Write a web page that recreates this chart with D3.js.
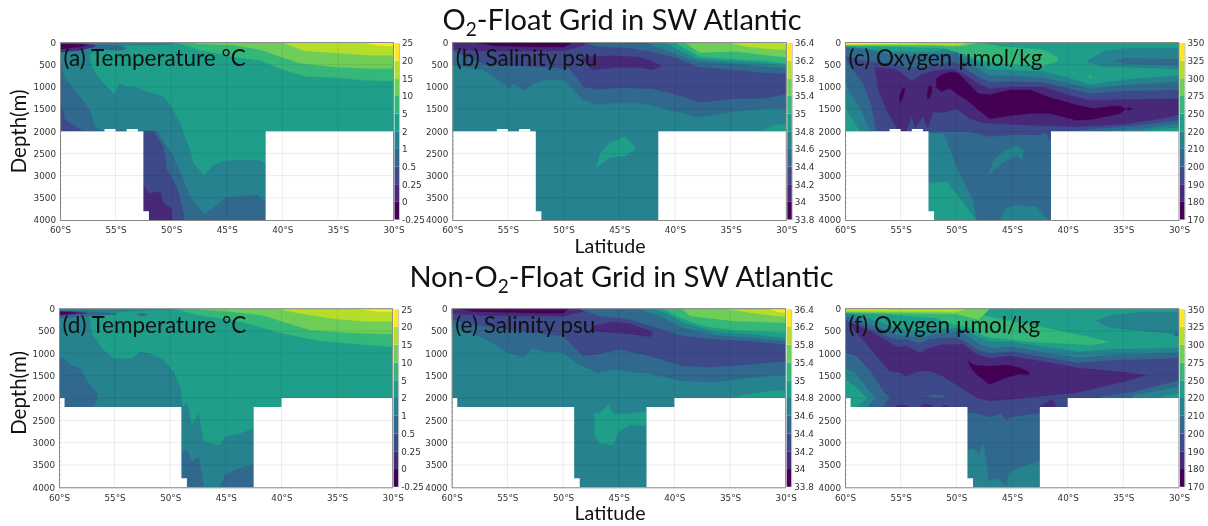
<!DOCTYPE html>
<html>
<head>
<meta charset="utf-8">
<script src="https://cdn.jsdelivr.net/npm/d3@7"></script>
<style>
  html, body { margin: 0; background: #fff; }
  svg { display: block; filter: blur(0.45px); }
  .tick text { font-family: "DejaVu Sans", sans-serif; font-size: 8.8px; fill: #333; }
</style>
</head>
<body>
<svg id="chart" width="1208" height="526"></svg>
<script>
// colour classes of the colourbars, low to high
const tempTicks = ["-0.25", "0", "0.25", "0.5", "1", "2", "5", "10", "15", "20", "25"];
const salTicks = ["33.8", "34", "34.2", "34.4", "34.6", "34.8", "35", "35.4", "35.8", "36.2", "36.4"];
const oxyTicks = ["170", "180", "190", "200", "210", "220", "250", "275", "300", "325", "350"];
const latTicks = [-60, -55, -50, -45, -40, -35, -30];
const depthTicks = [0, 500, 1000, 1500, 2000, 2500, 3000, 3500, 4000];

// sea floor of the two grids: [lat, depth], stepped
const floorO2 = [[-60, 2000], [-56, 1950], [-55, 2000], [-54, 1950], [-53, 2000], [-52.5, 3800], [-52, 4000], [-41.5, 2000], [-30, 2000]];
const floorNon = [[-60, 2000], [-59.5, 2200], [-49, 3800], [-48.5, 4000], [-42.5, 2200], [-40, 2000], [-30, 2000]];

// each layer: [colour class, [[lat, top depth, bottom depth], ...]], painted in order
const tempA = [
  [5, [[-60, 0, 4000], [-30, 0, 4000]]],
  [4, [[-60, 0, 4000], [-57.6, 0, 4000], [-57.15, 550, 4000], [-56.4, 850, 4000], [-55.05, 1185, 4000], [-54.7, 920, 4000], [-53.9, 1010, 4000], [-53.1, 1010, 4000], [-52.2, 1110, 4000], [-50.7, 1220, 4000], [-50, 1450, 4000], [-49.2, 1820, 4000], [-48.9, 2050, 4000], [-48.3, 2420, 4000], [-48, 2720, 4000], [-47.05, 3000, 4000], [-46.2, 2760, 4000], [-45, 2660, 4000], [-42, 2660, 4000], [-41.5, 2745, 4000]]],
  [4, [[-57.6, 0, 300], [-56, 0, 90], [-53, 0, 60], [-51, 0, 60], [-49.5, 0, 0]]],
  [3, [[-60, 400, 4000], [-59.6, 800, 4000], [-58.2, 1220, 4000], [-57.3, 1520, 4000], [-56.9, 1900, 4000], [-56.4, 1975, 4000], [-51.3, 2000, 4000], [-49.8, 2570, 4000], [-48.9, 3100, 4000], [-48.3, 3470, 4000], [-47.05, 3885, 4000], [-45, 3490, 4000], [-42.3, 3435, 4000], [-41.5, 3585, 4000]]],
  [2, [[-60, 1300, 4000], [-59.55, 1750, 4000], [-57.9, 2000, 4000], [-51.6, 2000, 4000], [-50.7, 2350, 4000], [-50.4, 2870, 4000], [-49.5, 3250, 4000], [-48.9, 3850, 4000], [-48.85, 4000, 4000]]],
  [1, [[-52.5, 3200, 4000], [-52.05, 3400, 4000], [-51, 3360, 4000], [-50.7, 3620, 4000], [-50, 3735, 4000], [-49.9, 4000, 4000]]],
  [3, [[-57.2, 50, 130], [-55.5, 60, 170], [-54.5, 80, 180], [-54, 130, 130]]],
  [1, [[-60, 30, 220], [-58, 30, 170], [-57, 50, 100], [-56.8, 75, 75]]],
  [0, [[-60, 40, 150], [-59, 40, 120], [-58, 50, 90], [-57.6, 70, 70]]],
  [6, [[-49.5, 0, 0], [-47.4, 0, 170], [-44.4, 0, 320], [-42, 0, 400], [-40.2, 0, 585], [-38, 0, 760], [-35.4, 0, 790], [-32.5, 0, 850], [-30, 0, 870]]],
  [7, [[-47.8, 0, 30], [-44.4, 0, 60], [-42, 0, 160], [-40.2, 0, 320], [-38.4, 0, 470], [-35.4, 0, 550], [-32.4, 0, 585], [-30, 0, 585]]],
  [8, [[-40, 0, 0], [-38, 0, 190], [-35.4, 0, 230], [-32.4, 0, 285], [-30, 0, 285]]],
  [9, [[-32.7, 0, 0], [-31.5, 0, 60], [-30, 0, 85]]]
];

const salB = [
  [4, [[-60, 0, 4000], [-30, 0, 4000]]],
  [3, [[-60, 0, 505], [-57.2, 0, 620], [-56, 0, 810], [-54.9, 0, 1035], [-54.5, 0, 920], [-53.6, 0, 1075], [-52.4, 0, 885], [-51.5, 0, 830], [-50, 0, 845], [-49.1, 0, 1070], [-48.2, 0, 1300], [-47, 0, 1390], [-45.2, 0, 1360], [-43.1, 0, 1360], [-41, 0, 1490], [-37.9, 0, 1675], [-34.9, 0, 1560], [-31.9, 0, 1490], [-30, 0, 1490]]],
  [2, [[-60, 0, 190], [-57.2, 0, 470], [-50, 0, 580], [-49.5, 0, 580], [-48.2, 0, 996], [-47, 0, 1060], [-45.2, 0, 1020], [-42.1, 0, 1035], [-39.7, 0, 1185], [-37.9, 0, 1350], [-34.6, 0, 1260], [-32.2, 0, 1260], [-30, 0, 1165]]],
  [1, [[-60, 0, 150], [-57.2, 0, 190], [-52, 0, 190], [-50, 0, 180], [-49, 0, 120], [-48.2, 0, 60], [-48, 0, 0]]],
  [0, [[-58.1, 0, 0], [-56, 0, 80], [-52, 0, 100], [-50, 0, 100], [-49.2, 0, 0]]],
  [1, [[-48.3, 330, 400], [-47.4, 310, 620], [-45.3, 300, 560], [-43.2, 330, 560], [-42.1, 420, 620], [-41.2, 530, 530]]],
  [5, [[-32.2, 2000, 2000], [-31, 1850, 2000], [-30, 1840, 2000]]],
  [5, [[-47.05, 2830, 2830], [-46.75, 2500, 2760], [-45.85, 2265, 2600], [-44.5, 2120, 2560], [-43.9, 2270, 2460], [-43.5, 2400, 2400]]],
  [3, [[-48, 0, 0], [-47, 0, 90], [-44, 0, 130], [-42.1, 0, 200], [-39.7, 0, 355], [-37.9, 0, 545], [-34.6, 0, 620], [-32, 0, 680], [-30, 0, 700]]],
  [4, [[-42.7, 0, 0], [-40.9, 0, 170], [-39.7, 0, 280], [-37.9, 0, 430], [-34.6, 0, 480], [-31.9, 0, 545], [-30, 0, 580]]],
  [5, [[-40.9, 0, 0], [-39.7, 0, 170], [-37.9, 0, 370], [-34.6, 0, 430], [-31.9, 0, 470], [-30, 0, 530]]],
  [6, [[-40, 0, 0], [-39.1, 0, 130], [-37.8, 0, 315], [-34.6, 0, 380], [-31.9, 0, 410], [-30, 0, 470]]],
  [7, [[-39.1, 0, 0], [-37.8, 0, 225], [-34.6, 0, 205], [-31.9, 0, 280], [-30, 0, 330]]],
  [8, [[-35.2, 0, 0], [-33.7, 0, 90], [-31.3, 0, 150], [-30, 0, 165]]],
  [9, [[-30.4, 0, 0], [-30, 0, 40]]]
];

const oxyC = [
  [3, [[-60, 0, 4000], [-30, 0, 4000]]],
  [2, [[-60, 0, 2000], [-49, 0, 2000], [-47, 0, 2120], [-45, 0, 2080], [-42.5, 0, 2085], [-42, 0, 2010], [-41.5, 0, 2235], [-30, 0, 2000]]],
  [1, [[-57.3, 0, 580], [-57, 0, 1070], [-56.25, 0, 1525], [-55.2, 0, 2000], [-54.5, 0, 1985], [-54, 0, 1660], [-53.7, 0, 1920], [-53, 0, 1660], [-52.55, 0, 1920], [-52.1, 0, 1570], [-50.9, 0, 1570], [-50, 0, 1490], [-48.8, 0, 1710], [-47.6, 0, 1810], [-43.7, 0, 1860], [-39.2, 0, 1900], [-34.7, 0, 1830], [-31.7, 0, 1720], [-30, 0, 1630]]],
  [3, [[-60, 355, 2000], [-59.3, 620, 2000], [-58.4, 920, 2000], [-57.7, 1370, 2000], [-57.2, 1980, 2000]]],
  [4, [[-60, 920, 2000], [-59.3, 1220, 2000], [-58.4, 1600, 2000], [-57.8, 1980, 2000]]],
  [5, [[-60, 1450, 2000], [-59.4, 1710, 2000], [-58.7, 1980, 2000]]],
  [3, [[-39.2, 1990, 2000], [-36.2, 1915, 2000], [-33.2, 1860, 2000], [-30, 1750, 2000]]],
  [4, [[-36.2, 1990, 2000], [-33.2, 1940, 2000], [-30, 1830, 2000]]],
  [5, [[-33.2, 2000, 2000], [-31.7, 1945, 2000], [-30, 1920, 2000]]],
  [4, [[-52.5, 2050, 4000], [-51.2, 2050, 4000], [-50.9, 2200, 4000], [-50, 2800, 4000], [-49.4, 3100, 4000], [-48.5, 3550, 4000], [-48.2, 4000, 4000]]],
  [5, [[-52.5, 3170, 4000], [-50.9, 3135, 4000], [-50, 3400, 4000], [-49.1, 3700, 4000], [-48.2, 4000, 4000]]],
  [4, [[-47.1, 3000, 3000], [-46.7, 2660, 2900], [-45.8, 2460, 2700], [-44.6, 2310, 2560], [-44.1, 2400, 2650], [-43.9, 2420, 2420]]],
  [4, [[-46.1, 4000, 4000], [-45.6, 3740, 4000], [-44.6, 3660, 4000], [-42.8, 3700, 4000], [-42, 3930, 4000], [-41.6, 4000, 4000]]],
  [2, [[-57.3, 0, 560], [-55.4, 0, 600], [-54, 0, 860], [-53, 0, 700], [-51.8, 0, 620], [-50.3, 0, 600], [-49, 0, 760], [-48, 0, 930], [-47, 0, 1040], [-45.2, 0, 1000], [-42.2, 0, 1000], [-39.8, 0, 1190], [-38, 0, 1300], [-34.7, 0, 1280], [-30, 0, 1260]]],
  [3, [[-60, 0, 300], [-58, 0, 420], [-56, 0, 470], [-54.5, 0, 560], [-53, 0, 560], [-51.5, 0, 500], [-50.5, 0, 420], [-49.5, 0, 500], [-49, 0, 620], [-48, 0, 780], [-47, 0, 890], [-45.2, 0, 880], [-42.2, 0, 890], [-39.8, 0, 1040], [-38, 0, 1150], [-34.7, 0, 1090], [-30, 0, 1070]]],
  [4, [[-60, 0, 120], [-58, 0, 150], [-56, 0, 270], [-54, 0, 300], [-52, 0, 270], [-50, 0, 230], [-49, 0, 470], [-48, 0, 600], [-47, 0, 740], [-45.2, 0, 750], [-42.2, 0, 790], [-39.8, 0, 920], [-38, 0, 1040], [-34.7, 0, 950], [-30, 0, 880]]],
  [5, [[-60, 0, 80], [-56, 0, 200], [-52, 0, 200], [-50, 0, 100], [-49, 0, 330], [-48, 0, 450], [-47, 0, 600], [-45.2, 0, 620], [-42.2, 0, 650], [-39.8, 0, 800], [-38, 0, 950], [-34.7, 0, 830], [-30, 0, 740]]],
  [4, [[-38.3, 430, 430], [-36.8, 205, 540], [-34.7, 130, 555], [-30, 130, 595]]],
  [3, [[-35.9, 410, 410], [-34.7, 355, 480], [-30, 380, 505]]],
  [6, [[-38.1, 760, 760], [-38, 740, 820], [-37.9, 780, 780]]],
  [6, [[-60, 0, 80], [-55, 0, 100], [-51, 0, 130], [-50.2, 0, 200], [-49, 0, 290], [-48, 0, 400], [-46, 90, 480], [-44, 130, 500], [-42.2, 170, 530], [-41, 320, 430], [-40.8, 380, 380]]],
  [7, [[-60, 0, 65], [-52, 0, 65], [-50, 0, 90], [-49, 0, 60], [-48, 0, 0]]],
  [8, [[-60, 0, 45], [-52, 0, 50], [-50, 0, 70], [-48.9, 0, 0]]],
  [9, [[-60, 0, 45], [-56.5, 0, 30], [-55.6, 0, 20], [-54.8, 0, 15], [-54, 0, 25], [-53.2, 0, 0]]],
  [0, [[-51.8, 810, 1000], [-51.35, 730, 1110], [-50.6, 670, 1030], [-49.85, 690, 1180], [-49.1, 880, 1290], [-48.05, 1150, 1510], [-47, 1180, 1720], [-45.2, 1070, 1650], [-43.4, 1070, 1600], [-41.6, 1240, 1600], [-39.2, 1410, 1750], [-37.7, 1490, 1730], [-36.2, 1440, 1650], [-35.3, 1430, 1600], [-34.85, 1500, 1510]]],
  [0, [[-34.8, 1500, 1500], [-34.5, 1470, 1530], [-34.2, 1490, 1490]]],
  [0, [[-55.1, 1200, 1370], [-54.8, 1030, 1250], [-54.6, 1030, 1030]]],
  [0, [[-52.6, 1100, 1280], [-52.4, 960, 1250], [-52.2, 1000, 1100]]]
];

const tempD = [
  [5, [[-60, 0, 4000], [-30, 0, 4000]]],
  [4, [[-60, 0, 4000], [-57.4, 0, 4000], [-57.05, 560, 4000], [-56, 930, 4000], [-55, 1120, 4000], [-53.5, 1120, 4000], [-52.7, 970, 4000], [-51.8, 1010, 4000], [-50.6, 1155, 4000], [-49.7, 1420, 4000], [-49.1, 1750, 4000], [-48.9, 2200, 4000], [-48.5, 2130, 4000], [-48.05, 2610, 4000], [-47.45, 2350, 4000], [-47, 2985, 4000], [-45.5, 3060, 4000], [-45.1, 2870, 4000], [-43.7, 2800, 4000], [-42.5, 2685, 4000]]],
  [4, [[-57.4, 0, 120], [-52, 0, 30], [-50, 0, 20], [-49, 0, 0]]],
  [3, [[-60, 1100, 2200], [-59.6, 1120, 2200], [-58.9, 1270, 2200], [-58.1, 1340, 2200], [-57.4, 1640, 2200], [-56.9, 1800, 2200], [-56.6, 1900, 2050], [-56.55, 1950, 1950]]],
  [3, [[-48.9, 3200, 4000], [-48.5, 3170, 4000], [-48.05, 3430, 4000], [-47.45, 3320, 4000], [-47.05, 3900, 4000], [-47, 4000, 4000], [-45.5, 4000, 4000], [-45.1, 3730, 4000], [-44, 3590, 4000], [-42.5, 3490, 4000]]],
  [3, [[-60, 50, 230], [-58, 50, 170], [-55, 100, 130], [-54.8, 120, 120]]],
  [2, [[-60, 60, 170], [-58.5, 70, 130], [-57.5, 100, 100]]],
  [1, [[-60, 60, 150], [-58.5, 75, 120], [-57.5, 100, 100]]],
  [0, [[-60, 70, 130], [-59, 80, 110], [-58.5, 95, 95]]],
  [3, [[-53, 125, 125], [-52.5, 100, 170], [-52, 130, 130]]],
  [6, [[-49.7, 0, 0], [-47.3, 0, 150], [-44.3, 0, 260], [-42.5, 0, 370], [-39.8, 0, 560], [-36.8, 0, 710], [-33.8, 0, 780], [-30, 0, 860]]],
  [7, [[-47.3, 0, 20], [-44.3, 0, 75], [-41.6, 0, 150], [-39.8, 0, 300], [-37.4, 0, 485], [-33.8, 0, 540], [-30, 0, 575]]],
  [8, [[-40.4, 0, 0], [-38.3, 0, 110], [-35.3, 0, 225], [-32.3, 0, 285], [-30, 0, 285]]],
  [9, [[-33.2, 0, 0], [-31.4, 0, 60], [-30, 0, 75]]]
];

const salE = [
  [4, [[-60, 0, 4000], [-30, 0, 4000]]],
  [3, [[-60, 0, 390], [-57.15, 0, 650], [-54.9, 0, 985], [-53.55, 0, 1075], [-52.65, 0, 870], [-52.05, 0, 950], [-50, 0, 985], [-48.8, 0, 1210], [-47, 0, 1430], [-45.2, 0, 1360], [-42.2, 0, 1455], [-39.2, 0, 1620], [-36.2, 0, 1640], [-33.2, 0, 1545], [-30, 0, 1470]]],
  [2, [[-60, 0, 240], [-57.15, 0, 390], [-50, 0, 610], [-49.1, 0, 835], [-48.2, 0, 1060], [-47, 0, 1020], [-44.9, 0, 910], [-42.2, 0, 1060], [-39.2, 0, 1280], [-36.9, 0, 1305], [-33.2, 0, 1245], [-30, 0, 1170]]],
  [1, [[-60, 0, 110], [-57, 0, 150], [-50, 0, 170], [-49.2, 0, 120], [-48.2, 0, 60], [-48, 0, 0]]],
  [0, [[-59.4, 0, 0], [-58, 0, 60], [-52, 0, 100], [-50, 0, 100], [-49.5, 0, 0]]],
  [1, [[-47.6, 500, 500], [-47.3, 390, 500], [-45.5, 300, 540], [-44, 330, 570], [-42.2, 500, 630], [-41.9, 575, 575]]],
  [5, [[-35, 2000, 2000], [-33.8, 1940, 2000], [-31.1, 1830, 2000], [-30, 1830, 2000]]],
  [5, [[-47.2, 2350, 2800], [-46.7, 2330, 3020], [-45.9, 2150, 3040], [-45.5, 2350, 3050], [-45, 2350, 2760], [-44, 2350, 2600], [-42.5, 2300, 2630]]],
  [3, [[-48.6, 0, 0], [-46.7, 0, 165], [-44, 0, 240], [-41.6, 0, 425], [-39.2, 0, 610], [-36.2, 0, 685], [-33.2, 0, 725], [-30, 0, 800]]],
  [4, [[-43.4, 0, 0], [-42.2, 0, 90], [-41, 0, 200], [-39.2, 0, 425], [-36.2, 0, 595], [-33.2, 0, 650], [-30, 0, 725]]],
  [5, [[-41.9, 0, 0], [-40.7, 0, 105], [-39.2, 0, 315], [-36.2, 0, 520], [-33.2, 0, 575], [-30, 0, 650]]],
  [6, [[-41, 0, 0], [-39.5, 0, 200], [-37.4, 0, 390], [-34.7, 0, 480], [-30, 0, 535]]],
  [7, [[-39.3, 0, 0], [-38.6, 0, 165], [-34.7, 0, 275], [-30, 0, 315]]],
  [8, [[-35.4, 0, 0], [-33.2, 0, 90], [-30.8, 0, 165], [-30, 0, 180]]],
  [9, [[-31.4, 0, 0], [-30.7, 0, 75], [-30, 0, 90]]]
];

const oxyF = [
  [3, [[-60, 0, 4000], [-30, 0, 4000]]],
  [2, [[-60, 0, 2200], [-49, 0, 2350], [-48.5, 0, 2320], [-47, 0, 2420], [-46, 0, 2350], [-45.5, 0, 2500], [-45, 0, 2420], [-42.5, 0, 2330], [-40, 0, 2200], [-30, 0, 2000]]],
  [3, [[-60, 985, 2200], [-59, 1060, 2200], [-57.7, 1400, 2200], [-56.6, 1840, 2200], [-56, 2000, 2000]]],
  [4, [[-60, 1340, 2200], [-59, 1450, 2200], [-58, 1800, 2200], [-57.2, 2000, 2000]]],
  [5, [[-60, 1567, 2200], [-58.9, 1790, 2200], [-58, 2000, 2000]]],
  [3, [[-37.1, 1977, 2000], [-34.1, 1865, 2000], [-30, 1600, 2000]]],
  [4, [[-34.1, 1940, 2000], [-30, 1750, 2000]]],
  [5, [[-31.7, 1980, 2000], [-30, 1900, 2000]]],
  [4, [[-49, 3170, 4000], [-48.4, 3130, 4000], [-48, 3280, 4000], [-47.6, 3020, 4000], [-47.3, 3430, 4000], [-47.1, 3840, 4000], [-46.2, 3800, 4000], [-45.5, 3990, 4000], [-45.3, 3730, 4000], [-44.9, 3620, 4000], [-42.5, 3400, 4000]]],
  [1, [[-55.4, 2180, 2200], [-55, 2150, 2200], [-54.4, 2180, 2200]]],
  [1, [[-53.2, 2180, 2200], [-52.8, 2120, 2200], [-52.2, 2170, 2200]]],
  [1, [[-51.3, 2180, 2200], [-51, 2160, 2200], [-50.7, 2190, 2200]]],
  [1, [[-42.5, 2180, 2200], [-42, 2110, 2200], [-41.4, 2030, 2200], [-41, 2180, 2200]]],
  [3, [[-52.8, 1950, 1950], [-52, 1930, 2000], [-51.2, 1940, 1990], [-51, 1990, 1990]]],
  [1, [[-59.6, 300, 350], [-57.8, 500, 870], [-56, 760, 1395], [-55.1, 870, 1430], [-54.5, 835, 1505], [-53.3, 985, 1395], [-52.4, 880, 1395], [-51.2, 800, 1505], [-49.4, 800, 1805], [-48.2, 1020, 1990], [-47, 1120, 2065], [-45.2, 1060, 2030], [-41.6, 1210, 1940], [-39.2, 1320, 1880], [-34.7, 1430, 1620], [-33, 1490, 1490]]],
  [3, [[-60, 0, 250], [-58.4, 0, 380], [-57, 0, 520], [-56, 0, 640], [-55, 0, 700], [-54.5, 0, 680], [-53.3, 0, 780], [-52.4, 0, 680], [-51.2, 0, 650], [-50, 0, 650], [-49.4, 0, 700], [-48.2, 0, 900], [-47, 0, 1000], [-45, 0, 960], [-42, 0, 1090], [-39.2, 0, 1210], [-36, 0, 1150], [-33, 0, 1130], [-30, 0, 1100]]],
  [4, [[-60, 0, 150], [-58.4, 0, 300], [-57, 0, 420], [-56, 0, 500], [-55, 0, 600], [-54, 0, 620], [-53, 0, 640], [-52, 0, 560], [-50, 0, 520], [-49, 0, 600], [-48, 0, 780], [-47, 0, 880], [-45, 0, 850], [-42, 0, 980], [-39, 0, 1100], [-36, 0, 1030], [-33, 0, 1010], [-30, 0, 985]]],
  [5, [[-60, 0, 80], [-58, 0, 200], [-57, 0, 300], [-56, 0, 380], [-55, 0, 450], [-54, 0, 500], [-53, 0, 520], [-52, 0, 470], [-50, 0, 430], [-49, 0, 500], [-48, 0, 640], [-47, 0, 730], [-45, 0, 740], [-42, 0, 850], [-39, 0, 960], [-36, 0, 900], [-33, 0, 890], [-30, 0, 870]]],
  [4, [[-37.4, 275, 275], [-36.2, 150, 425], [-33.2, 75, 500], [-30, 75, 575]]],
  [3, [[-30.4, 560, 600], [-30, 500, 620]]],
  [6, [[-60, 0, 100], [-56, 0, 130], [-52, 0, 200], [-50, 0, 370], [-48.8, 0, 430], [-47.3, 165, 635], [-45.5, 260, 680], [-43.1, 370, 745], [-39.5, 560, 790], [-38, 640, 820], [-36.2, 745, 745]]],
  [7, [[-60, 0, 80], [-55, 0, 100], [-50, 0, 120], [-48, 0, 250], [-47, 0, 0]]],
  [8, [[-60, 0, 60], [-52, 0, 70], [-50, 0, 80], [-49, 0, 0]]],
  [9, [[-60, 0, 20], [-56.5, 0, 20], [-56, 0, 0]]],
  [0, [[-49, 1150, 1150], [-48.65, 1225, 1340], [-48.2, 1270, 1470], [-47, 1290, 1700], [-45.5, 1260, 1540], [-44.3, 1320, 1460], [-43.5, 1410, 1480], [-43.45, 1450, 1450]]]
];

const svg = d3.select("#chart");
const color = (i) => d3.interpolateViridis(i / 9);
const latFormat = (d) => `${Math.abs(d)}°S`;

const panels = [
  { px: 60, py: 42.5, w: 333.5, h: 177.5, layers: tempA, floor: floorO2, ticks: tempTicks, label: "(a) Temperature °C" },
  { px: 452.3, py: 42.5, w: 334, h: 177.5, layers: salB, floor: floorO2, ticks: salTicks, label: "(b) Salinity psu" },
  { px: 845, py: 42.5, w: 334, h: 177.5, layers: oxyC, floor: floorO2, ticks: oxyTicks, label: "(c) Oxygen µmol/kg" },
  { px: 59, py: 308.7, w: 333.7, h: 178.6, layers: tempD, floor: floorNon, ticks: tempTicks, label: "(d) Temperature °C" },
  { px: 451.7, py: 308.7, w: 334, h: 178.6, layers: salE, floor: floorNon, ticks: salTicks, label: "(e) Salinity psu" },
  { px: 845, py: 308.7, w: 334, h: 178.6, layers: oxyF, floor: floorNon, ticks: oxyTicks, label: "(f) Oxygen µmol/kg" }
];

panels.forEach((p, n) => {
  const g = svg.append("g").attr("transform", `translate(${p.px},${p.py})`);
  const x = d3.scaleLinear().domain([-60, -30]).range([0, p.w]);
  const y = d3.scaleLinear().domain([0, 4000]).range([0, p.h]);

  g.append("clipPath").attr("id", `clip${n}`)
    .append("rect").attr("width", p.w).attr("height", p.h);
  const plot = g.append("g").attr("clip-path", `url(#clip${n})`);

  const band = d3.area().x((d) => x(d[0])).y0((d) => y(d[1])).y1((d) => y(d[2]));
  plot.selectAll("path.band")
    .data(p.layers)
    .enter()
    .append("path")
    .attr("class", "band")
    .attr("d", (d) => band(d[1]))
    .attr("fill", (d) => color(d[0]))
    .attr("stroke", (d) => color(d[0]))
    .attr("stroke-width", 0.3);

  // no data below the floor
  const floorArea = d3.area().curve(d3.curveStepAfter)
    .x((d) => x(d[0])).y0((d) => y(d[1])).y1(y(4000));
  plot.append("path").attr("d", floorArea(p.floor)).attr("fill", "#fff");

  // grid sits on top of the fill
  const grid = g.append("g").attr("stroke", "#000").attr("stroke-opacity", 0.1).attr("stroke-width", 0.8);
  grid.selectAll("line.gx").data(latTicks.slice(1, -1)).enter().append("line")
    .attr("x1", (d) => x(d)).attr("x2", (d) => x(d)).attr("y1", 0).attr("y2", p.h);
  grid.selectAll("line.gy").data(depthTicks.slice(1, -1)).enter().append("line")
    .attr("x1", 0).attr("x2", p.w).attr("y1", (d) => y(d)).attr("y2", (d) => y(d));

  g.append("g").attr("transform", `translate(0,${p.h})`)
    .call(d3.axisBottom(x).tickValues(latTicks).tickFormat(latFormat).tickSize(0).tickPadding(7))
    .call((a) => a.select(".domain").attr("stroke", "#8a8a8a").attr("stroke-width", 1));
  g.append("g")
    .call(d3.axisLeft(y).tickValues(depthTicks).tickFormat(d3.format("d")).tickSize(0).tickPadding(4))
    .call((a) => a.select(".domain").attr("stroke", "#8a8a8a").attr("stroke-width", 1));
  // minor depth ticks
  g.append("g")
    .call(d3.axisLeft(y).tickValues(d3.range(0, 4001, 100)).tickSize(-1.5).tickFormat(""))
    .call((a) => a.select(".domain").remove())
    .call((a) => a.selectAll("line").attr("stroke", "#777").attr("stroke-width", 0.5));
  g.append("line").attr("x1", 0).attr("x2", p.w).attr("stroke", "#8a8a8a").attr("stroke-width", 1);
  g.append("line").attr("x1", p.w).attr("x2", p.w).attr("y2", p.h).attr("stroke", "#8a8a8a").attr("stroke-width", 1);

  // discrete colourbar
  const cb = g.append("g").attr("transform", `translate(${p.w + 1},0)`);
  const cbY = d3.scalePoint().domain(p.ticks.slice().reverse()).range([0.5, p.h - 0.5]);
  cb.selectAll("rect")
    .data(p.ticks.slice(0, -1))
    .enter()
    .append("rect")
    .attr("x", 0)
    .attr("width", 4.5)
    .attr("y", (d, i) => cbY(p.ticks[i + 1]))
    .attr("height", (d, i) => cbY(d) - cbY(p.ticks[i + 1]))
    .attr("fill", (d, i) => color(i));
  cb.append("g").attr("transform", "translate(4.5,0)")
    .call(d3.axisRight(cbY).tickSize(0).tickPadding(3))
    .call((a) => a.select(".domain").attr("stroke", "#999").attr("stroke-width", 0.6));

  g.append("text")
    .attr("x", 3.5)
    .attr("y", n < 3 ? 23 : 24)
    .style("font-family", "Lato, sans-serif")
    .style("font-size", "22.5px")
    .style("fill", "#111")
    .text(p.label);
});

const textStyle = (t, size) => t
  .style("font-family", "Lato, sans-serif")
  .style("font-size", `${size}px`)
  .style("fill", "#111");

[[622, 30, ""], [621.5, 287, "Non-"]].forEach(([cx, base, prefix]) => {
  const t = svg.append("text").attr("x", cx).attr("y", base).attr("text-anchor", "middle").call(textStyle, 29);
  t.append("tspan").text(`${prefix}O`);
  t.append("tspan").attr("dy", 6).style("font-size", "19px").text("2");
  t.append("tspan").attr("dy", -6).text("-Float Grid in SW Atlantic");
});

[253, 520].forEach((base) => {
  svg.append("text").attr("x", 610).attr("y", base).attr("text-anchor", "middle").call(textStyle, 19.6).text("Latitude");
});
[131.5, 393].forEach((cy) => {
  svg.append("text")
    .attr("transform", `translate(26,${cy}) rotate(-90)`)
    .attr("text-anchor", "middle")
    .call(textStyle, 20.5)
    .text("Depth(m)");
});
</script>
</body>
</html>
